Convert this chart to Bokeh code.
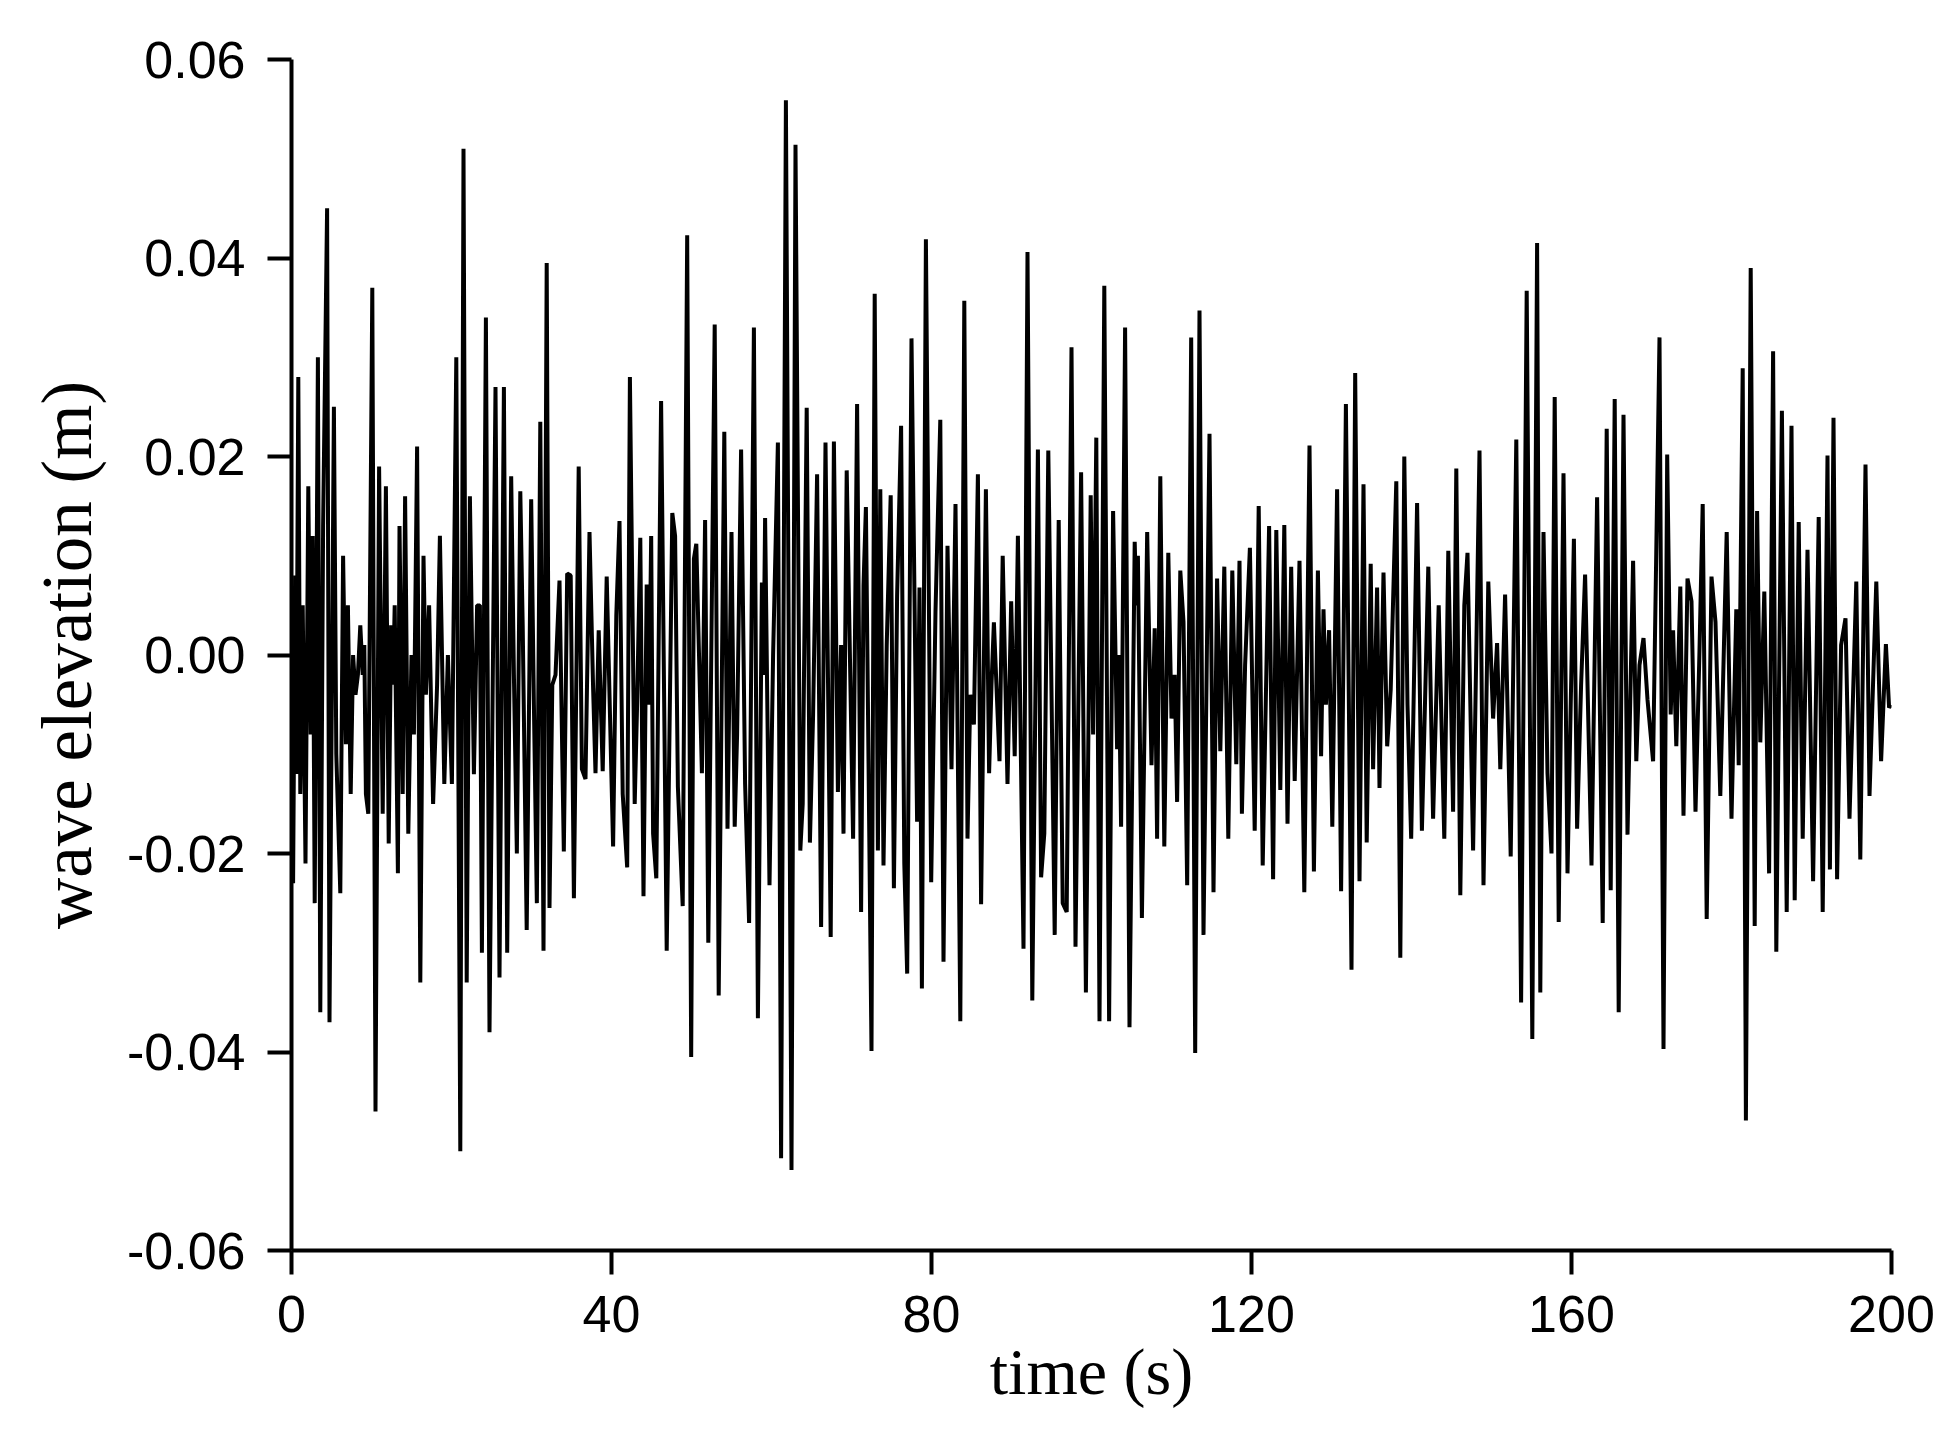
from bokeh.plotting import figure
from bokeh.models import FixedTicker, PrintfTickFormatter
from bokeh.embed import file_html
from bokeh.resources import INLINE

# ---- data (time in s, wave elevation in m) ----
time_0_25 = [0.0, 0.2, 0.45, 0.6, 0.85, 1.1, 1.4, 1.75, 2.1, 2.4, 2.65, 2.9, 3.3, 3.6, 3.95, 4.45, 4.75, 5.3,
             5.6, 6.1, 6.45, 6.8, 7.05, 7.4, 7.7, 8.0, 8.3, 8.6, 8.9, 9.1, 9.3, 9.6, 10.1, 10.5, 10.95, 11.4,
             11.8, 12.15, 12.45, 12.7, 12.9, 13.3, 13.5, 13.9, 14.2, 14.6, 15.0, 15.3, 15.7, 16.1, 16.5, 16.8,
             17.2, 17.7, 18.2, 18.55, 19.1, 19.55, 20.05, 20.6, 21.1, 21.5, 21.9, 22.3, 22.8, 23.2, 23.55, 23.8,
             24.3, 24.75]
elev_0_25 = [0.003, -0.023, 0.008, -0.012, 0.028, -0.014, 0.005, -0.021, 0.017, -0.008, 0.012, -0.025, 0.030,
             -0.036, 0.013, 0.045, -0.037, 0.025, -0.010, -0.024, 0.010, -0.009, 0.005, -0.014, 0.000, -0.004,
             -0.002, 0.003, -0.002, 0.001, -0.014, -0.016, 0.037, -0.046, 0.019, -0.016, 0.017, -0.019, 0.003,
             -0.003, 0.005, -0.022, 0.013, -0.014, 0.016, -0.018, 0.000, -0.008, 0.021, -0.033, 0.010, -0.004,
             0.005, -0.015, -0.003, 0.012, -0.013, 0.000, -0.013, 0.030, -0.050, 0.051, -0.033, 0.016, -0.012,
             0.005, 0.005, -0.030, 0.034, -0.038]

time_25_50 = [25.5, 26.0, 26.55, 26.96, 27.46, 27.8, 28.17, 28.6, 28.9, 29.4, 29.96, 30.3, 30.67, 31.1, 31.5,
              31.9, 32.25, 32.6, 33.0, 33.5, 34.04, 34.46, 34.9, 35.3, 35.9, 36.3, 36.75, 37.25, 37.7, 38.0,
              38.4, 38.9, 39.4, 40.2, 40.6, 41.0, 41.4, 41.96, 42.3, 42.9, 43.2, 43.6, 44.0, 44.4, 44.7, 44.96,
              45.2, 45.6, 46.2, 46.9, 47.6, 47.95, 48.3, 48.9, 49.46, 49.96]
elev_25_50 = [0.027, -0.0325, 0.027, -0.030, 0.018, -0.002, -0.020, 0.0165, 0.003, -0.0277, 0.0157, -0.005,
              -0.025, 0.0235, -0.0298, 0.0395, -0.0255, -0.003, -0.002, 0.0075, -0.0198, 0.0082, 0.008,
              -0.0245, 0.019, -0.0115, -0.0125, 0.0124, -0.0033, -0.0119, 0.0025, -0.0117, 0.0079, -0.0193,
              0.004, 0.0135, -0.014, -0.0214, 0.028, -0.015, -0.005, 0.0118, -0.0243, 0.0071, -0.005, 0.012,
              -0.018, -0.0225, 0.0256, -0.0298, 0.0143, 0.012, -0.0133, -0.0253, 0.0423, -0.0405]

time_50_75 = [50.3, 50.6, 51.3, 51.7, 52.1, 52.9, 53.4, 54.1, 54.5, 55.0, 55.4, 55.7, 56.2, 56.7, 57.2, 57.8,
              58.3, 58.8, 59.0, 59.2, 59.75, 60.2, 60.8, 61.2, 61.8, 62.5, 63.0, 63.6, 63.9, 64.4, 64.8, 65.2,
              65.7, 66.2, 66.75, 67.4, 67.8, 68.3, 68.7, 69.0, 69.4, 70.2, 70.7, 71.2, 71.5, 71.8, 72.5, 72.9,
              73.3, 73.6, 74.0, 74.4, 74.9, 75.3]
elev_50_75 = [0.0097, 0.0112, -0.0119, 0.0136, -0.029, 0.0333, -0.0343, 0.0225, -0.0175, 0.0124, -0.0173,
              -0.008, 0.0207, -0.013, -0.027, 0.033, -0.0366, 0.0073, -0.002, 0.0138, -0.0232, 0.000, 0.0214,
              -0.0507, 0.0559, -0.0519, 0.0514, -0.0197, -0.015, 0.0249, -0.0189, -0.006, 0.0182, -0.0274,
              0.0214, -0.0284, 0.0215, -0.0138, 0.001, -0.018, 0.0186, -0.0185, 0.0253, -0.0259, 0.007,
              0.0149, -0.0399, 0.0364, -0.0197, 0.0167, -0.0212, 0.001, 0.0161, -0.0235]

time_75_100 = [75.7, 76.2, 76.6, 76.96, 77.5, 78.2, 78.5, 78.8, 79.3, 79.96, 80.5, 81.1, 81.5, 82.0, 82.5,
               83.0, 83.6, 84.1, 84.5, 84.85, 85.3, 85.8, 86.2, 86.8, 87.2, 87.5, 87.8, 88.5, 88.9, 89.5,
               89.96, 90.4, 90.8, 91.5, 92.0, 92.6, 93.3, 93.7, 94.1, 94.6, 95.4, 95.9, 96.4, 96.9, 97.5,
               98.0, 98.7, 99.3, 99.9]
elev_75_100 = [0.006, 0.0231, -0.021, -0.0321, 0.0319, -0.0168, 0.0068, -0.0336, 0.0419, -0.0229, 0.0044,
               0.0237, -0.0309, 0.011, -0.0115, 0.0152, -0.0369, 0.0357, -0.0185, -0.004, -0.007, 0.0182,
               -0.0251, 0.0167, -0.0119, -0.003, 0.0033, -0.0107, 0.010, -0.013, 0.0054, -0.0102, 0.012,
               -0.0296, 0.0406, -0.0348, 0.0207, -0.0224, -0.018, 0.0206, -0.0282, 0.0136, -0.025, -0.0259,
               0.031, -0.0294, 0.0184, -0.034, 0.0161]

time_100_125 = [100.2, 100.6, 101.0, 101.6, 102.2, 102.7, 103.2, 103.4, 103.7, 104.2, 104.75, 105.4, 105.6,
                105.8, 106.3, 106.96, 107.5, 107.9, 108.2, 108.6, 109.1, 109.6, 110.0, 110.4, 110.7, 111.1,
                111.5, 111.96, 112.46, 112.96, 113.5, 114.0, 114.75, 115.25, 115.7, 116.1, 116.6, 117.1,
                117.6, 118.1, 118.5, 118.8, 119.2, 119.8, 120.4, 120.9, 121.4, 122.2, 122.7, 123.1, 123.6,
                124.1, 124.5, 124.96, 125.4]
elev_100_125 = [-0.008, 0.0219, -0.0369, 0.0372, -0.0369, 0.0145, -0.0095, 0.000, -0.0173, 0.033, -0.0375,
                0.0114, 0.005, 0.010, -0.0265, 0.0124, -0.0111, 0.0027, -0.0185, 0.018, -0.0193, 0.0103,
                -0.0064, -0.002, -0.0148, 0.0085, 0.0033, -0.0232, 0.032, -0.0401, 0.0347, -0.0282, 0.0223,
                -0.0239, 0.0077, -0.0097, 0.0089, -0.0185, 0.0085, -0.011, 0.0095, -0.016, -0.001, 0.0108,
                -0.0177, 0.015, -0.0212, 0.013, -0.0226, 0.0126, -0.0136, 0.0131, -0.017, 0.0089, -0.0127]

time_125_150 = [126.0, 126.6, 127.25, 127.8, 128.3, 128.7, 129.0, 129.3, 129.7, 130.1, 130.7, 131.2, 131.8,
                132.5, 132.96, 133.5, 134.0, 134.4, 134.9, 135.2, 135.7, 136.0, 136.5, 136.96, 137.4, 138.1,
                138.6, 139.1, 139.5, 139.96, 140.7, 141.3, 142.1, 142.7, 143.4, 144.1, 144.6, 145.2, 145.6,
                146.1, 146.6, 147.0, 147.7, 148.5, 149.0, 149.6]
elev_125_150 = [0.0095, -0.0239, 0.0211, -0.0218, 0.0085, -0.0102, 0.0046, -0.005, 0.0025, -0.0173, 0.0167,
                -0.0238, 0.0253, -0.0317, 0.0284, -0.0228, 0.0172, -0.0189, 0.0092, -0.0115, 0.0068, -0.0134,
                0.0083, -0.0092, -0.0035, 0.0175, -0.0305, 0.020, -0.005, -0.0185, 0.0153, -0.0177, 0.0089,
                -0.0165, 0.005, -0.0185, 0.0105, -0.0158, 0.0188, -0.0242, 0.005, 0.0103, -0.0197, 0.0206,
                -0.0232, 0.0074]

time_150_175 = [150.2, 150.7, 151.1, 151.7, 152.4, 153.1, 153.7, 154.4, 155.1, 155.7, 156.1, 156.5, 157.0,
                157.5, 157.9, 158.4, 159.0, 159.5, 160.3, 160.7, 161.2, 161.7, 162.5, 163.2, 163.9, 164.4,
                164.9, 165.4, 165.9, 166.5, 167.0, 167.7, 168.1, 168.5, 169.0, 169.5, 170.2, 171.0, 171.5,
                171.96, 172.4, 172.7, 173.1, 173.6, 174.0, 174.5]
elev_150_175 = [-0.0064, 0.0012, -0.0115, 0.0061, -0.0203, 0.0217, -0.035, 0.0367, -0.0387, 0.0415, -0.034,
                0.0124, -0.0119, -0.020, 0.026, -0.0269, 0.0183, -0.022, 0.0117, -0.0175, -0.003, 0.0081,
                -0.0212, 0.0159, -0.027, 0.0228, -0.0237, 0.0258, -0.036, 0.0242, -0.0181, 0.0095, -0.0107,
                -0.001, 0.0017, -0.0045, -0.0107, 0.032, -0.0397, 0.0202, -0.006, 0.0025, -0.0092, 0.0069,
                -0.0162, 0.0077]

time_175_200 = [175.0, 175.5, 176.0, 176.4, 176.9, 177.5, 178.0, 178.6, 179.4, 180.0, 180.6, 180.9, 181.4,
                181.8, 182.4, 182.9, 183.2, 183.6, 184.1, 184.7, 185.2, 185.6, 186.3, 186.9, 187.5, 187.9,
                188.4, 188.9, 189.5, 190.2, 190.9, 191.4, 192.0, 192.3, 192.75, 193.2, 193.7, 194.25, 194.75,
                195.6, 196.1, 196.75, 197.25, 198.1, 198.7, 199.3, 199.7, 200.0]
elev_175_200 = [0.0054, -0.0158, 0.0005, 0.0152, -0.0266, 0.0079, 0.0033, -0.0142, 0.0124, -0.0165, 0.0046,
                -0.0111, 0.0289, -0.0469, 0.039, -0.0273, 0.0145, -0.0088, 0.0064, -0.022, 0.0306, -0.0299,
                0.0246, -0.0259, 0.0231, -0.0247, 0.0134, -0.0185, 0.0106, -0.0228, 0.0139, -0.0259, 0.0201,
                -0.0216, 0.0239, -0.0226, 0.001, 0.0037, -0.0165, 0.0074, -0.0206, 0.0192, -0.0142, 0.0074,
                -0.0107, 0.0011, -0.0053, -0.005]

x_ticks = [0, 40, 80, 120, 160, 200]
y_ticks = [-0.06, -0.04, -0.02, 0.0, 0.02, 0.04, 0.06]
x_label = "time (s)"
y_label = "wave elevation (m)"

time_s = (time_0_25 + time_25_50 + time_50_75 + time_75_100 +
          time_100_125 + time_125_150 + time_150_175 + time_175_200)
elev_m = (elev_0_25 + elev_25_50 + elev_50_75 + elev_75_100 +
          elev_100_125 + elev_125_150 + elev_150_175 + elev_175_200)

p = figure(width=1941, height=1420, x_range=(0, 200), y_range=(-0.06, 0.06),
           output_backend="svg", toolbar_location=None,
           min_border_left=291, min_border_right=50, min_border_top=59, min_border_bottom=170)
p.outline_line_color = None
p.grid.visible = False
p.background_fill_color = "white"
p.border_fill_color = "white"

p.line(time_s, elev_m, line_color="black", line_width=4)

for ax in (p.xaxis[0], p.yaxis[0]):
    ax.axis_line_width = 4
    ax.axis_line_color = "black"
    ax.major_tick_line_width = 4
    ax.major_tick_line_color = "black"
    ax.major_tick_in = 0
    ax.major_tick_out = 24
    ax.minor_tick_line_color = None
    ax.major_label_text_font = "Liberation Sans"
    ax.major_label_text_font_size = "52px"
    ax.major_label_text_color = "black"
    ax.axis_label_text_font = "Liberation Serif"
    ax.axis_label_text_font_style = "normal"
    ax.axis_label_text_color = "black"

p.xaxis.axis_label_text_font_size = "66px"
p.yaxis.axis_label_text_font_size = "71px"
p.xaxis.ticker = FixedTicker(ticks=x_ticks)
p.yaxis.ticker = FixedTicker(ticks=y_ticks)
p.yaxis.formatter = PrintfTickFormatter(format="%.2f")
p.xaxis.axis_label = x_label
p.yaxis.axis_label = y_label
p.xaxis.major_label_standoff = 21
p.yaxis.major_label_standoff = 22
p.xaxis.axis_label_standoff = 0
p.yaxis.axis_label_standoff = 18

open("out.html", "w").write(file_html(p, INLINE))
